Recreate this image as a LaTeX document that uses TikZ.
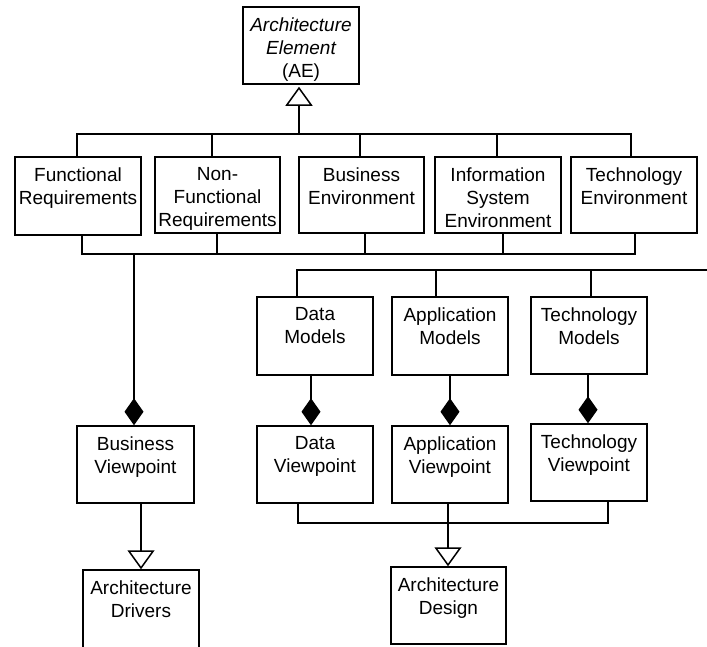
\documentclass[tikz,border=0pt]{standalone}
\usepackage{fontspec}
\setmainfont{Liberation Sans}
\usetikzlibrary{arrows.meta}
\begin{document}
\begin{tikzpicture}[x=1pt,y=-1pt,
  line/.style={draw=black, line width=1.5pt},
  box/.style={line, inner sep=0pt, fill=white},
  lbl/.style={anchor=north, align=center, inner sep=0pt,
    font=\fontsize{19}{23}\selectfont},
  gen/.style={line, -{Triangle[open, length=19pt, width=27pt, fill=white]}},
  comp/.style={line, -{Diamond[length=27pt, width=19pt]}}]
% page area
\useasboundingbox (0,0) rectangle (707,646);
\fill[white] (0,0) rectangle (707,646);
\clip (0,0) rectangle (707,646);

% ---- boxes ----
\node[box, minimum width=116pt, minimum height=77pt] (ae)  at (301,45.5) {};
\node[box, minimum width=126pt, minimum height=78pt] (fr)  at (78,196) {};
\node[box, minimum width=125pt, minimum height=76pt] (nfr) at (217.5,195) {};
\node[box, minimum width=125pt, minimum height=76pt] (be)  at (361.5,195) {};
\node[box, minimum width=126pt, minimum height=76pt] (ise) at (498,195) {};
\node[box, minimum width=126pt, minimum height=76pt] (te)  at (634,195) {};
\node[box, minimum width=116pt, minimum height=78pt] (dm)  at (315,336) {};
\node[box, minimum width=116pt, minimum height=78pt] (am)  at (450,336) {};
\node[box, minimum width=116pt, minimum height=77pt] (tm)  at (589,335.5) {};
\node[box, minimum width=117pt, minimum height=77pt] (bv)  at (135.5,464.5) {};
\node[box, minimum width=116pt, minimum height=77pt] (dv)  at (315,464.5) {};
\node[box, minimum width=116pt, minimum height=77pt] (av)  at (450,464.5) {};
\node[box, minimum width=116pt, minimum height=77pt] (tv)  at (589,462.5) {};
\node[box, minimum width=116pt, minimum height=90pt] (drv) at (141,615) {};
\node[box, minimum width=115pt, minimum height=77pt] (ad)  at (448.5,605.5) {};

% ---- labels ----
\node[lbl] (ae-t)  at ([yshift=-11pt]ae.north)  {\itshape Architecture\\\itshape Element\\(AE)};
\node[lbl] (fr-t)  at ([yshift=-11pt]fr.north)  {Functional\\Requirements};
\node[lbl] (nfr-t) at ([yshift=-11pt]nfr.north) {Non-\\Functional\\Requirements};
\node[lbl] (be-t)  at ([yshift=-11pt]be.north)  {Business\\Environment};
\node[lbl] (ise-t) at ([yshift=-11pt]ise.north) {Information\\System\\Environment};
\node[lbl] (te-t)  at ([yshift=-11pt]te.north)  {Technology\\Environment};
\node[lbl] (dm-t)  at ([yshift=-11pt]dm.north)  {Data\\Models};
\node[lbl] (am-t)  at ([yshift=-11pt]am.north)  {Application\\Models};
\node[lbl] (tm-t)  at ([yshift=-11pt]tm.north)  {Technology\\Models};
\node[lbl] (bv-t)  at ([yshift=-11pt]bv.north)  {Business\\Viewpoint};
\node[lbl] (dv-t)  at ([yshift=-11pt]dv.north)  {Data\\Viewpoint};
\node[lbl] (av-t)  at ([yshift=-11pt]av.north)  {Application\\Viewpoint};
\node[lbl] (tv-t)  at ([yshift=-11pt]tv.north)  {Technology\\Viewpoint};
\node[lbl] (drv-t) at ([yshift=-11pt]drv.north) {Architecture\\Drivers};
\node[lbl] (ad-t)  at ([yshift=-11pt]ad.north)  {Architecture\\Design};

% ---- junction points ----
\coordinate (upbus)  at (299,134);
\coordinate (lowbus) at (134,254);
\coordinate (modbus) at (712,270);
\coordinate (vpbus)  at (448,523);

% generalisation of the five element kinds
\draw[line] ([xshift=-1pt]fr.north) -- ([xshift=-1pt]fr.north |- upbus)
  -- ([xshift=-3pt]te.north |- upbus) -- ([xshift=-3pt]te.north);
\draw[line] ([xshift=-5.5pt]nfr.north) -- ([xshift=-5.5pt]nfr.north |- upbus);
\draw[line] ([xshift=-1.5pt]be.north) -- ([xshift=-1.5pt]be.north |- upbus);
\draw[line] ([xshift=-1pt]ise.north) -- ([xshift=-1pt]ise.north |- upbus);
\draw[gen, shorten >=2pt] (upbus) -- (upbus |- ae.south);

% element kinds composed into the business viewpoint
\draw[line] ([xshift=4pt]fr.south) -- ([xshift=4pt]fr.south |- lowbus)
  -- ([xshift=1pt]te.south |- lowbus) -- ([xshift=1pt]te.south);
\draw[line] ([xshift=-0.5pt]nfr.south) -- ([xshift=-0.5pt]nfr.south |- lowbus);
\draw[line] ([xshift=3.5pt]be.south) -- ([xshift=3.5pt]be.south |- lowbus);
\draw[line] ([xshift=5pt]ise.south) -- ([xshift=5pt]ise.south |- lowbus);
\draw[comp] (lowbus) -- (lowbus |- bv.north);

% models bus
\draw[line] ([xshift=-18pt]dm.north) -- ([xshift=-18pt]dm.north |- modbus) -- (modbus);
\draw[line] ([xshift=-14pt]am.north) -- ([xshift=-14pt]am.north |- modbus);
\draw[line] ([xshift=2pt]tm.north) -- ([xshift=2pt]tm.north |- modbus);

% models composed into viewpoints
\draw[comp] ([xshift=-4pt]dm.south) -- ([xshift=-4pt]dm.south |- dv.north);
\draw[comp] (am.south) -- (am.south |- av.north);
\draw[comp] ([xshift=-1pt]tm.south) -- ([xshift=-1pt]tm.south |- tv.north);

% viewpoints generalised into the design
\draw[line] ([xshift=-17pt]dv.south) -- ([xshift=-17pt]dv.south |- vpbus)
  -- ([xshift=19pt]tv.south |- vpbus) -- ([xshift=19pt]tv.south);
\draw[gen] (vpbus |- av.south) -- (vpbus |- ad.north);

% business viewpoint to drivers
\draw[gen] (drv.north |- bv.south) -- (drv.north);
\end{tikzpicture}
\end{document}
